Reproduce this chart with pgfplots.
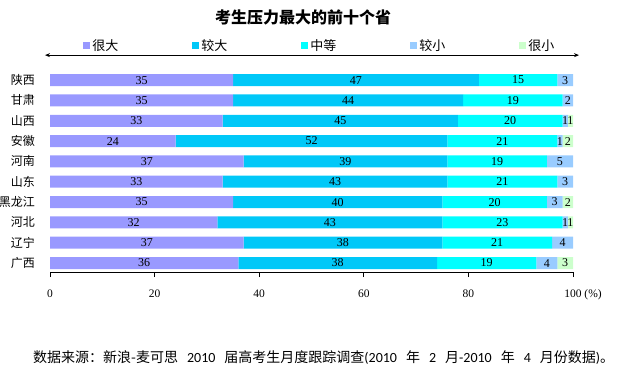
\documentclass[border=0pt]{standalone}
\usepackage{pgfplots}
\pgfplotsset{compat=1.18}
\usepackage{pgfplotstable}
\usetikzlibrary{arrows.meta}
\usepackage{fontspec}
\setmainfont{Liberation Serif}
\newfontfamily\cjk{Noto Sans CJK SC}
\newfontfamily\carlito{Carlito}
\definecolor{c1}{HTML}{9999FF}
\definecolor{c2}{HTML}{00C8F8}
\definecolor{c3}{HTML}{00FFFF}
\definecolor{c4}{HTML}{99CCFF}
\definecolor{c5}{HTML}{CCFFCC}
\pgfplotstableread{
idx a b c d e
0 35 47 15 3 0
1 35 44 19 2 0
2 33 45 20 1 1
3 24 52 21 1 2
4 37 39 19 5 0
5 33 43 21 3 0
6 35 40 20 3 2
7 32 43 23 1 1
8 37 38 21 4 0
9 36 38 19 4 3
}\data
\begin{document}
\begin{tikzpicture}
\useasboundingbox (0,0) rectangle (624pt,381pt);
\begin{axis}[
  at={(50pt,109pt)}, anchor=south west,
  scale only axis, x=5.23pt, y=20.33pt,
  xbar stacked, bar width=12pt,
  xmin=0, xmax=100, ymin=-0.5, ymax=9.44, y dir=reverse,
  axis x line*=bottom, axis y line*=left,
  y axis line style={draw=none},
  x axis line style={line width=0.8pt},
  ytick={0,...,9},
  yticklabels={陕西,甘肃,山西,安徽,河南,山东,黑龙江,河北,辽宁,广西},
  ytick style={draw=none},
  yticklabel style={font=\cjk\fontsize{12}{12}\selectfont, inner sep=0pt, xshift=-10pt},
  xtick={0,20,...,100},
  xticklabels={\textrm{0},\textrm{20},\textrm{40},\textrm{60},\textrm{80},\textrm{100\rlap{ (\%)}}},
  xticklabel style={font=\fontsize{11.5}{12}\selectfont, yshift=-9pt},
  tick align=outside, major tick length=5pt,
  xtick style={line width=0.8pt, black},
  clip=false,
  nodes near coords={\ifdim\val pt>0pt\pgfmathprintnumber[fixed,precision=0,assume math mode=true]{\val}\fi},
  every node near coord/.append style={anchor=center, font=\fontsize{12}{12}\selectfont, text=black, inner sep=0pt},
  legend columns=5,
  legend style={at={(rel axis cs:0.516,1.12)}, anchor=center, draw=none, fill=none,
    font=\cjk\fontsize{13}{13}\selectfont,
    /tikz/every even column/.append style={column sep=72pt}},
  legend image code/.code={\fill[#1] (0pt,-3.5pt) rectangle (7pt,3.5pt);},
]
\addplot[fill=c1, draw=none, visualization depends on={\thisrow{a} \as \val}] table[x=a, y=idx] {\data};
\addplot[fill=c2, draw=none, visualization depends on={\thisrow{b} \as \val}] table[x=b, y=idx] {\data};
\addplot[fill=c3, draw=none, visualization depends on={\thisrow{c} \as \val}] table[x=c, y=idx] {\data};
\addplot[fill=c4, draw=none, visualization depends on={\thisrow{d} \as \val}] table[x=d, y=idx] {\data};
\addplot[fill=c5, draw=none, visualization depends on={\thisrow{e} \as \val}] table[x=e, y=idx] {\data};
\legend{很大,较大,中等,较小,很小}
\draw[{Stealth[length=5pt,width=4pt]}-{Stealth[length=5pt,width=4pt]}, line width=0.8pt] (rel axis cs:-0.0096,1.0732) -- (rel axis cs:1.0115,1.0732);
\end{axis}
\node[font=\cjk\bfseries\fontsize{16}{16}\selectfont] at (303pt,364pt) {考生压力最大的前十个省};
\node[anchor=base west, inner sep=0pt, font=\fontsize{14}{14}\selectfont] at (33pt,19pt) {{\cjk 数据来源：新浪-麦可思}\hspace{9pt}{\carlito 2010}\hspace{9pt}{\cjk 届高考生月度跟踪调查}{\carlito (2010}\hspace{9pt}{\cjk 年}\hspace{9pt}{\carlito 2}\hspace{9pt}{\cjk 月}{\carlito -2010}\hspace{9pt}{\cjk 年}\hspace{9pt}{\carlito 4}\hspace{9pt}{\cjk 月份数据}{\carlito )}{\cjk 。}};
\end{tikzpicture}
\end{document}
